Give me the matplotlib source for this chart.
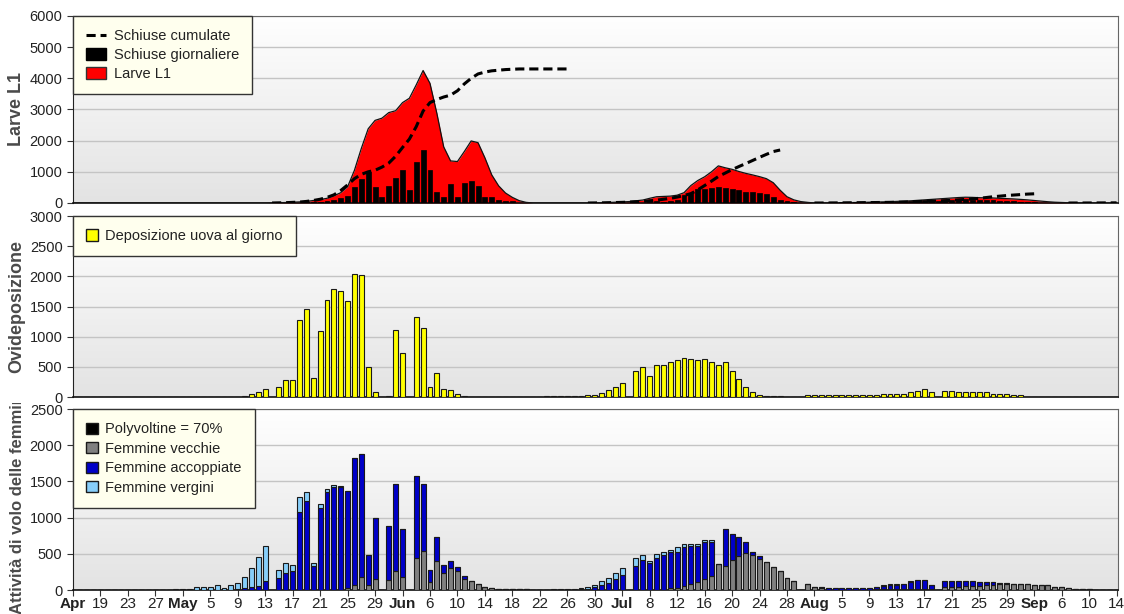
import matplotlib.pyplot as plt
import numpy as np
from matplotlib.colors import LinearSegmentedColormap
from matplotlib.lines import Line2D
from matplotlib.patches import Patch
from matplotlib.transforms import Bbox, TransformedBbox

plt.rcParams['font.family'] = ['Liberation Sans', 'DejaVu Sans']

# --- Data: one value per day, day 0 = 15 April, day 152 = 14 September ---
N_DAYS = 153

# Larve L1 (red area), one list per generation with its first day
l1_gen1_start = 28
l1_gen1 = [0, 5, 10, 15, 25, 35, 50, 80, 110, 150, 230, 330, 520, 1050, 1750,
           2380, 2650, 2720, 2900, 2960, 3220, 3360, 3790, 4250, 3840, 2880,
           1800, 1350, 1330, 1650, 1990, 1935, 1450, 900, 550, 320, 180, 75, 20, 0]
l1_gen2_start = 75
l1_gen2 = [0, 5, 10, 15, 25, 35, 45, 70, 95, 150, 200, 210, 220, 250, 330, 560,
           720, 840, 1000, 1190, 1130, 1080, 1010, 950, 900, 845, 780, 650, 410,
           200, 100, 45, 20, 0]
l1_gen3_start = 108
l1_gen3 = [0, 2, 5, 7, 10, 12, 15, 20, 25, 30, 35, 42, 50, 60, 70, 85, 100, 115,
           130, 145, 160, 175, 185, 180, 170, 165, 160, 150, 140, 130, 115, 100,
           80, 60, 40, 25, 15, 8, 3, 0]

# Schiuse giornaliere (black bars)
hatch_gen1_start = 30
hatch_gen1 = [5, 8, 10, 15, 20, 30, 45, 70, 100, 150, 235, 520, 770, 985, 520,
              200, 545, 810, 1060, 415, 1330, 1700, 1060, 360, 200, 610, 200,
              630, 715, 545, 200, 200, 100, 50, 50, 10]
hatch_gen2_start = 82
hatch_gen2 = [10, 15, 20, 60, 40, 70, 100, 255, 310, 440, 450, 480, 500, 470,
              440, 420, 360, 360, 320, 280, 200, 95, 50, 20]
hatch_gen3_start = 110
hatch_gen3 = [15, 15, 20, 20, 20, 25, 25, 30, 30, 35, 40, 45, 50, 60, 80, 90,
              60, 100, 110, 120, 115, 105, 100, 95, 90, 75, 65, 55, 45, 35, 25,
              15, 10, 5]

# Schiuse cumulate (dashed line), separate runs
cum_gen1_start = 29
cum_gen1 = [0, 5, 10, 20, 30, 50, 80, 120, 180, 260, 400, 580, 780, 920, 1000,
            1050, 1150, 1280, 1500, 1780, 2050, 2450, 2950, 3220, 3320, 3400,
            3460, 3600, 3820, 4000, 4140, 4200, 4240, 4260, 4280, 4290, 4300,
            4300, 4300, 4300, 4300, 4300, 4300, 4300]
cum_gen2_start = 75
cum_gen2 = [0, 2, 5, 10, 15, 20, 30, 40, 50, 70, 90, 120, 150, 190, 240, 300,
            420, 560, 700, 850, 960, 1070, 1170, 1265, 1365, 1465, 1560, 1650, 1700]
cum_gen3_start = 108
cum_gen3 = [0, 0, 2, 3, 5, 7, 9, 11, 13, 15, 18, 21, 25, 30, 36, 43, 52, 60, 65,
            75, 85, 100, 115, 130, 150, 175, 200, 220, 240, 255, 270, 285, 295]
cum_gen4_start = 145
cum_gen4 = [0, 0, 0, 1, 2, 3, 4, 5]

# Deposizione uova al giorno (yellow bars)
eggs_start = 25
eggs = [17, 45, 78, 133, 0, 166, 277, 277, 1277, 1465, 310, 1094, 1608, 1785,
        1752, 1591, 2040, 2023, 502, 78, 0, 17, 1105, 730, 0, 1332, 1139, 171,
        398, 133, 116, 45, 17, 0, 0, 0, 0, 0, 0, 0, 0, 0, 0, 0, 22, 22, 22, 22,
        22, 24, 28, 28, 72, 116, 171, 227, 0, 431, 502, 348, 530, 530, 575, 613,
        641, 625, 613, 630, 586, 530, 586, 436, 298, 171, 83, 32, 25, 25, 25,
        0, 0, 0, 30, 30, 30, 30, 30, 30, 30, 32, 32, 38, 38, 48, 55, 55, 55, 83,
        105, 127, 75, 0, 105, 95, 83, 83, 75, 75, 75, 55, 45, 45, 30, 28]

# Flight activity of females (stacked bars), from day 15
females_start = 15
old_f = [0, 0, 0, 0, 0, 0, 0, 0, 0, 0, 0, 0, 0, 0, 0, 0, 0, 0, 0, 0, 0, 0, 0, 0,
         0, 25, 73, 180, 65, 155, 0, 142, 262, 184, 0, 438, 539, 115, 405, 235,
         300, 267, 152, 124, 79, 40, 25, 15, 12, 10, 8, 8, 5, 5, 0, 0, 0, 0, 0,
         0, 0, 0, 0, 0, 0, 0, 0, 0, 0, 0, 0, 0, 23, 23, 60, 83, 115, 152, 189,
         359, 336, 419, 470, 511, 483, 428, 391, 313, 267, 166, 125, 0, 83, 37,
         30, 5, 5, 5, 5, 5, 5, 5, 8, 10, 10, 12, 12, 15, 15, 15, 10, 0, 40, 45,
         45, 50, 55, 60, 70, 75, 85, 90, 83, 83, 83, 75, 75, 69, 37, 37, 23, 15,
         10, 10]
mated_f = [0, 0, 0, 0, 0, 0, 0, 0, 0, 10, 25, 40, 60, 120, 0, 160, 235, 267,
           1083, 1225, 336, 1128, 1350, 1430, 1430, 1350, 1750, 1698, 414, 840,
           0, 747, 1202, 658, 0, 1133, 925, 161, 323, 110, 105, 46, 37, 0, 0, 0,
           0, 0, 0, 0, 0, 0, 0, 0, 0, 0, 0, 0, 5, 15, 20, 40, 69, 97, 152, 207,
           0, 336, 409, 373, 446, 483, 497, 507, 529, 525, 493, 506, 469, 0, 507,
           355, 258, 147, 47, 42, 0, 0, 0, 0, 0, 0, 0, 0, 7, 23, 23, 23, 23, 23,
           23, 23, 29, 45, 55, 60, 65, 100, 125, 125, 64, 0, 80, 75, 75, 70, 65,
           55, 40, 35, 12, 7, 0, 0, 0, 0, 0, 0, 0, 0, 0, 0, 0, 0]
virgin_f = [10, 10, 10, 37, 37, 40, 73, 35, 73, 90, 159, 260, 390, 495, 0, 120,
            138, 83, 198, 125, 37, 56, 45, 24, 10, 0, 0, 0, 0, 0, 0, 0, 0, 0, 0,
            0, 0, 0, 0, 0, 0, 0, 0, 0, 0, 0, 0, 0, 0, 0, 0, 0, 0, 0, 5, 8, 10,
            12, 15, 13, 17, 29, 51, 64, 83, 97, 0, 110, 74, 32, 51, 47, 32, 59,
            46, 27, 27, 29, 29, 0, 0, 0, 0, 0, 0, 0, 0, 0, 0, 0, 0, 0, 0, 0, 0,
            0, 0, 0, 0, 0, 0, 0, 0, 14, 18, 11, 6, 5, 2, 2, 0, 0, 0, 0, 0, 0, 0,
            0, 0, 0, 0, 0, 0, 0, 0, 0, 0, 0, 0, 0, 0, 0, 0, 0]

tick_labels = ['Apr', '19', '23', '27', 'May', '5', '9', '13', '17', '21', '25',
               '29', 'Jun', '6', '10', '14', '18', '22', '26', '30', 'Jul', '8',
               '12', '16', '20', '24', '28', 'Aug', '5', '9', '13', '17', '21',
               '25', '29', 'Sep', '6', '10', '14']
month_labels = ['Apr', 'May', 'Jun', 'Jul', 'Aug', 'Sep']


def season(start, values, fill=0.0):
    s = np.full(N_DAYS, fill)
    s[start:start + len(values)] = values
    return s


days = np.arange(N_DAYS)
l1 = season(l1_gen1_start, l1_gen1) + season(l1_gen2_start, l1_gen2) + season(l1_gen3_start, l1_gen3)
hatch = (season(hatch_gen1_start, hatch_gen1) + season(hatch_gen2_start, hatch_gen2)
         + season(hatch_gen3_start, hatch_gen3))
cum_runs = [(cum_gen1_start, cum_gen1), (cum_gen2_start, cum_gen2),
            (cum_gen3_start, cum_gen3), (cum_gen4_start, cum_gen4)]
eggs_d = season(eggs_start, eggs)
old_d = season(females_start, old_f)
mated_d = season(females_start, mated_f)
virgin_d = season(females_start, virgin_f)

# --- Figure ---
fig = plt.figure(figsize=(11.24, 6.14), dpi=100)
left, width = 0.0649, 0.9297
ax1 = fig.add_axes([left, 0.6694, width, 0.3046])
ax2 = fig.add_axes([left, 0.3534, width, 0.2948])
ax3 = fig.add_axes([left, 0.0390, width, 0.2948])

grad_cmap = LinearSegmentedColormap.from_list('bg', ['#e3e3e3', '#ffffff'])
grad = np.linspace(0, 1, 256).reshape(-1, 1)
bar_w = 0.72
edge = dict(edgecolor='#1a1a1a', linewidth=0.8)

for ax, ymax, step in [(ax1, 6000, 1000), (ax2, 3000, 500), (ax3, 2500, 500)]:
    ax.imshow(grad, extent=[0, 1, 0, 1], transform=ax.transAxes, aspect='auto',
              cmap=grad_cmap, origin='lower', zorder=-2)
    ax.set_xlim(0, 152.2)
    ax.set_ylim(0, ymax)
    ax.set_yticks(np.arange(0, ymax + 1, step))
    ax.yaxis.grid(True, color='#c4c4c4', linewidth=1)
    ax.set_axisbelow(True)
    ax.tick_params(axis='y', labelsize=10.5, length=4, color='#333333', labelcolor='#222222')
    for side in ['top', 'right']:
        ax.spines[side].set_color('#666666')
    ax.spines['left'].set_color('#222222')
    ax.spines['bottom'].set_color('#111111')
    ax.spines['bottom'].set_linewidth(1.2)

# Panel 1: larvae L1
ax1.fill_between(days, l1, color='#ff0000', linewidth=0, zorder=2)
ax1.plot(days, l1, color='#111111', linewidth=0.9, zorder=2.5)
ax1.bar(days, hatch, width=bar_w, color='black', edgecolor='black', linewidth=0.5, zorder=3)
for start, vals in cum_runs:
    ax1.plot(np.arange(start, start + len(vals)), vals, color='black', linewidth=2.2,
             dashes=(3, 1.6), zorder=4)
ax1.tick_params(axis='x', bottom=False, labelbottom=False)

# Panel 2: egg laying
ax2.bar(days, eggs_d, width=bar_w, color='#ffff00', zorder=3, **edge)
ax2.tick_params(axis='x', bottom=False, labelbottom=False)

# Panel 3: female flight activity (stacked)
ax3.bar(days, old_d, width=bar_w, color='#808080', zorder=3, **edge)
ax3.bar(days, mated_d, width=bar_w, bottom=old_d, color='#0000c8', zorder=3, **edge)
ax3.bar(days, virgin_d, width=bar_w, bottom=old_d + mated_d, color='#87cefa', zorder=3, **edge)
ax3.set_xticks(np.arange(0, N_DAYS, 4))
ax3.set_xticklabels(tick_labels)
ax3.tick_params(axis='x', labelsize=11, length=4, color='#333333', labelcolor='#222222', pad=1)
for lbl in ax3.get_xticklabels():
    if lbl.get_text() in month_labels:
        lbl.set_fontweight('bold')

# Y labels
ylab_kw = dict(fontweight='bold', color='#4a4a4a')
ax1.set_ylabel('Larve L1', fontsize=13, **ylab_kw)
ax2.set_ylabel('Ovideposizione', fontsize=13, **ylab_kw)
lab3 = ax3.set_ylabel('Attività di volo delle femmine', fontsize=12, **ylab_kw)
for ax in [ax1, ax2, ax3]:
    ax.yaxis.set_label_coords(-0.046, 0.5)
# the long label is cut at the top of its panel, as in the original
top3 = ax3.get_position().y1
lab3.set_clip_box(TransformedBbox(Bbox.from_extents(0, 0, left, top3 + 0.01), fig.transFigure))
lab3.set_clip_on(True)

# Legends
leg_kw = dict(loc='upper left', bbox_to_anchor=(0, 1), borderaxespad=0, fancybox=False,
              framealpha=1, facecolor='#ffffee', edgecolor='#333333', fontsize=10.5,
              handletextpad=0.5, borderpad=0.9)
h1 = [Line2D([], [], color='black', linewidth=2.2, dashes=(3, 1.6)),
      Patch(facecolor='black', edgecolor='black'),
      Patch(facecolor='#ff0000', edgecolor='#333333')]
leg1 = ax1.legend(h1, ['Schiuse cumulate', 'Schiuse giornaliere', 'Larve L1'],
                  handlelength=1.4, handleheight=0.85, labelspacing=0.35, **leg_kw)
h2 = [Patch(facecolor='#ffff00', edgecolor='#1a1a1a')]
leg2 = ax2.legend(h2, ['Deposizione uova al giorno'], handlelength=0.8, handleheight=0.8, **leg_kw)
h3 = [Patch(facecolor='black', edgecolor='#1a1a1a'),
      Patch(facecolor='#808080', edgecolor='#1a1a1a'),
      Patch(facecolor='#0000c8', edgecolor='#1a1a1a'),
      Patch(facecolor='#87cefa', edgecolor='#1a1a1a')]
leg3 = ax3.legend(h3, ['Polyvoltine = 70%', 'Femmine vecchie', 'Femmine accoppiate',
                       'Femmine vergini'], handlelength=0.8, handleheight=0.8,
                  labelspacing=0.38, **leg_kw)
for leg in [leg1, leg2, leg3]:
    leg.get_frame().set_linewidth(1)
    leg.set_zorder(10)
    for t in leg.get_texts():
        t.set_color('#222222')

fig.savefig('out.png', dpi=100)
